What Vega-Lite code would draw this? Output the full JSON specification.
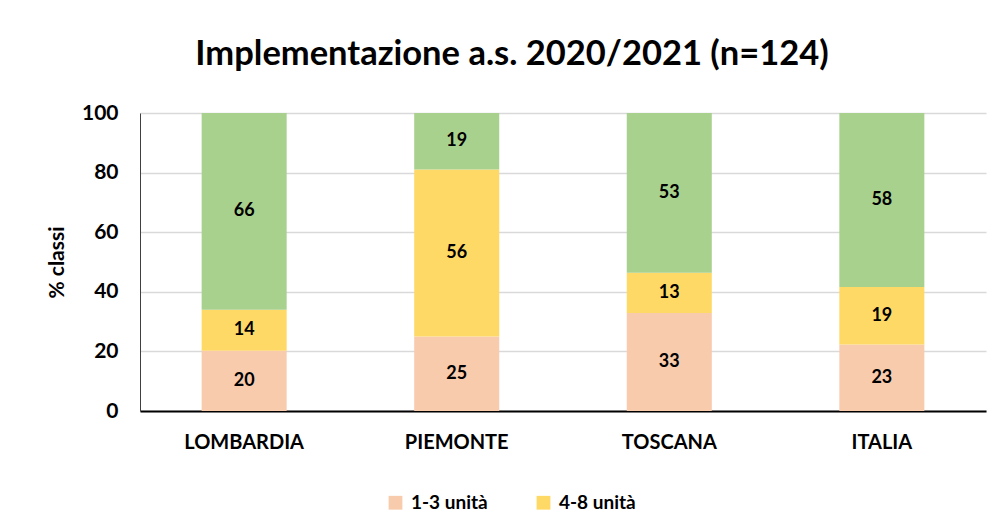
{
  "$schema": "https://vega.github.io/schema/vega-lite/v6.json",
  "autosize": "none",
  "width": 846,
  "height": 298,
  "padding": {"left": 140, "top": 113, "right": 18, "bottom": 117},
  "background": "white",
  "title": {
    "text": "Implementazione a.s. 2020/2021 (n=124)",
    "font": "Lato",
    "fontSize": 34.5,
    "fontWeight": "bold",
    "color": "#000000",
    "anchor": "middle",
    "dx": -51,
    "offset": 30
  },
  "data": {
    "values": [
      {"region": "LOMBARDIA", "cat": "1-3 unità", "ord": 1, "value": 20.2, "label": 20},
      {"region": "LOMBARDIA", "cat": "4-8 unità", "ord": 2, "value": 13.8, "label": 14},
      {"region": "LOMBARDIA", "cat": "> 8 unità", "ord": 3, "value": 66, "label": 66},
      {"region": "PIEMONTE", "cat": "1-3 unità", "ord": 1, "value": 25, "label": 25},
      {"region": "PIEMONTE", "cat": "4-8 unità", "ord": 2, "value": 56, "label": 56},
      {"region": "PIEMONTE", "cat": "> 8 unità", "ord": 3, "value": 19, "label": 19},
      {"region": "TOSCANA", "cat": "1-3 unità", "ord": 1, "value": 32.9, "label": 33},
      {"region": "TOSCANA", "cat": "4-8 unità", "ord": 2, "value": 13.5, "label": 13},
      {"region": "TOSCANA", "cat": "> 8 unità", "ord": 3, "value": 53.6, "label": 53},
      {"region": "ITALIA", "cat": "1-3 unità", "ord": 1, "value": 22.3, "label": 23},
      {"region": "ITALIA", "cat": "4-8 unità", "ord": 2, "value": 19.3, "label": 19},
      {"region": "ITALIA", "cat": "> 8 unità", "ord": 3, "value": 58.4, "label": 58}
    ]
  },
  "transform": [
    {"stack": "value", "groupby": ["region"], "sort": [{"field": "ord", "order": "ascending"}], "as": ["y0", "y1"]}
  ],
  "encoding": {
    "x": {
      "field": "region",
      "type": "nominal",
      "sort": ["LOMBARDIA", "PIEMONTE", "TOSCANA", "ITALIA"],
      "scale": {"paddingInner": 0.6, "paddingOuter": 0.29},
      "axis": {
        "title": null,
        "labelAngle": 0,
        "labelFont": "Lato",
        "labelFontSize": 20,
        "labelFontWeight": "bold",
        "labelColor": "#000000",
        "labelPadding": 21,
        "ticks": false,
        "domainColor": "#000000",
        "domainWidth": 2,
        "grid": false
      }
    }
  },
  "layer": [
    {
      "mark": {"type": "bar"},
      "encoding": {
        "y": {
          "field": "y0",
          "type": "quantitative",
          "scale": {"domain": [0, 100]},
          "axis": {
            "title": "% classi",
            "titleFont": "Lato",
            "titleFontSize": 21,
            "titleFontWeight": "bold",
            "titleColor": "#000000",
            "titlePadding": 14,
            "values": [0, 20, 40, 60, 80, 100],
            "labelFont": "Lato",
            "labelFontSize": 21,
            "labelFontWeight": "bold",
            "labelColor": "#000000",
            "labelPadding": 22,
            "ticks": false,
            "domainColor": "#404040",
            "domainWidth": 1,
            "grid": true,
            "gridColor": "#d9d9d9",
            "gridWidth": 1.5
          }
        },
        "y2": {"field": "y1"},
        "color": {
          "field": "cat",
          "type": "nominal",
          "scale": {
            "domain": ["1-3 unità", "4-8 unità", "> 8 unità"],
            "range": ["#F8CBAD", "#FFD966", "#A9D18E"]
          },
          "legend": {
            "values": ["1-3 unità", "4-8 unità"],
            "title": null,
            "orient": "none",
            "direction": "horizontal",
            "legendX": 246,
            "legendY": 380,
            "symbolType": "square",
            "symbolSize": 190,
            "symbolStrokeWidth": 0,
            "labelFont": "Lato",
            "labelFontSize": 19,
            "labelFontWeight": "bold",
            "labelColor": "#000000",
            "columnPadding": 46,
            "labelOffset": 6
          }
        }
      }
    },
    {
      "transform": [
        {"fold": ["y0", "y1"], "as": ["edgeName", "edge"]}
      ],
      "mark": {"type": "text", "font": "Lato", "fontSize": 18, "fontWeight": "bold", "color": "#000000", "baseline": "middle"},
      "encoding": {
        "y": {"aggregate": "mean", "field": "edge", "type": "quantitative"},
        "detail": {"field": "cat", "type": "nominal"},
        "text": {"aggregate": "max", "field": "label", "type": "quantitative"}
      }
    }
  ],
  "config": {
    "view": {"stroke": null}
  }
}
